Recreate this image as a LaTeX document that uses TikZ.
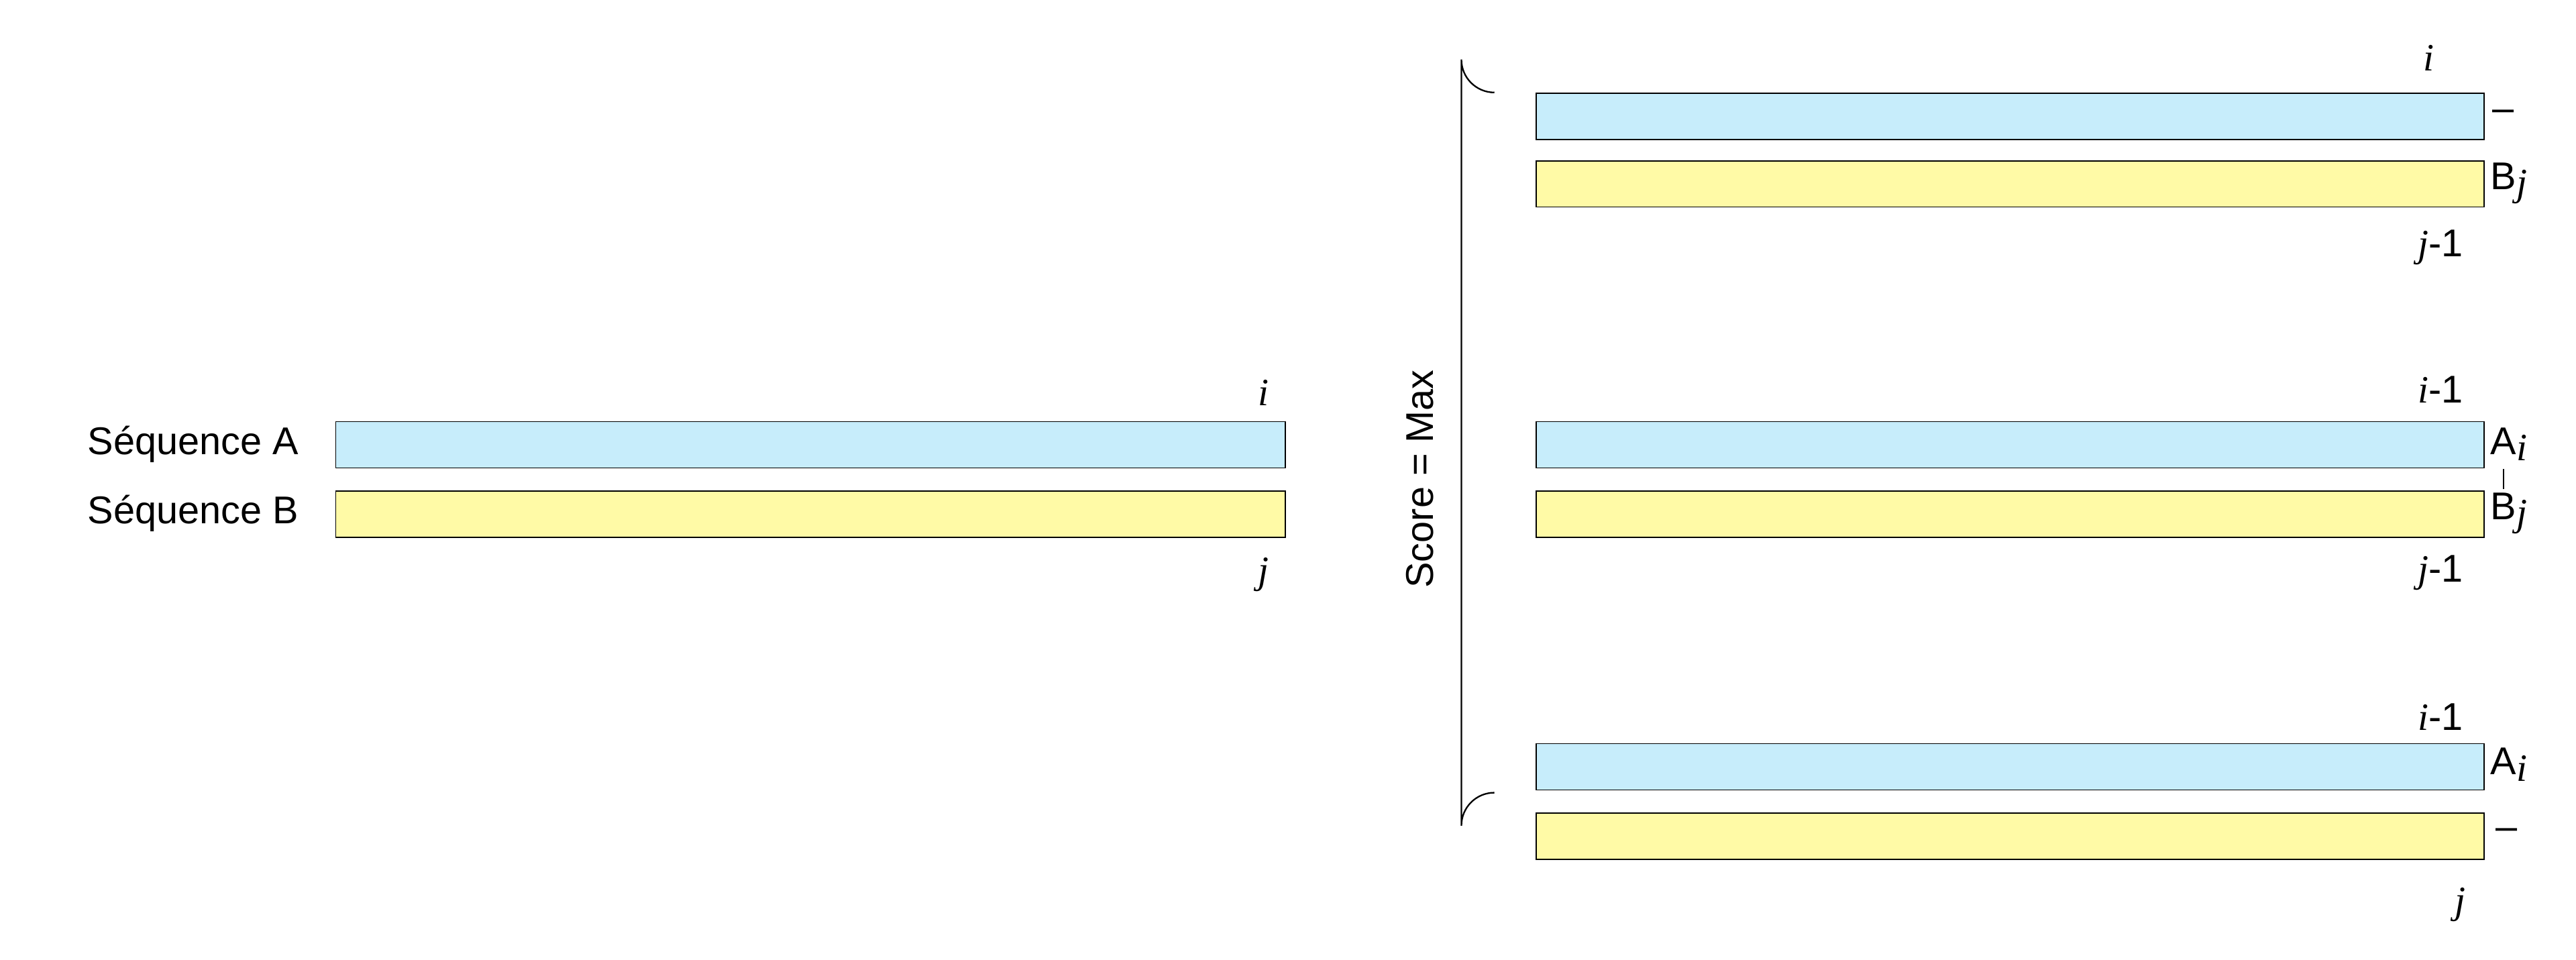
\documentclass[tikz,border=0pt]{standalone}
\usepackage{fontspec}
\setmainfont{Liberation Sans}
\newfontfamily\serifit{Liberation Serif}
\begin{document}
\begin{tikzpicture}[x=0.03cm,y=-0.03cm,
  every node/.style={font=\fontsize{20}{24}\selectfont},
  bar/.style={draw=black, line width=0.6pt, minimum height=0.84cm, inner sep=0pt, anchor=north west},
  seqA/.style={bar, fill=cyan!22},
  seqB/.style={bar, fill=yellow!35},
  lw/.style={minimum width=17.25cm},
  rw/.style={minimum width=17.22cm},
  lab/.style={inner sep=0pt}]
\useasboundingbox (0,0) rectangle (1560,581);
\newcommand{\mi}[1]{{\serifit\itshape #1}}
% left
\node[seqA,lw] (la) at (203,255) {};
\node[seqB,lw] (lb) at (203,297) {};
\node[lab,anchor=east] (tA) at (181,269) {Séquence A};
\node[lab,anchor=east] (tB) at (181,311) {Séquence B};
\node[lab] (li) at (765,238) {\mi{i}};
\node[lab] (lj) at (765,348) {\mi{j}};
% score
\node[lab,rotate=90] (score) at (860,290) {Score = Max};
\draw[line width=0.8pt] (905,56) arc[start angle=90,end angle=180,radius=20] -- (885,500) arc[start angle=180,end angle=270,radius=20];
% right rows
\node[seqA,rw] (a1) at (930,56) {};
\node[seqB,rw] (b1) at (930,97) {};
\node[seqA,rw] (a2) at (930,255) {};
\node[seqB,rw] (b2) at (930,297) {};
\node[seqA,rw] (a3) at (930,450) {};
\node[seqB,rw] (b3) at (930,492) {};
\node[lab] (r1i) at (1471,35) {\mi{i}};
\node[lab,anchor=west] (g1) at (1509,70) {--};
\node[lab,anchor=west] (bj1) at (1508,111) {B\raisebox{-0.3ex}{\mi{j}}};
\node[lab] (r1j) at (1478,150) {\mi{j}-1};
\node[lab] (r2i) at (1478,236) {\mi{i}-1};
\node[lab,anchor=west] (ai2) at (1508,269) {A\raisebox{-0.3ex}{\mi{i}}};
\draw[line width=0.7pt] (1516,284) -- (1516,296);
\node[lab,anchor=west] (bj2) at (1508,311) {B\raisebox{-0.3ex}{\mi{j}}};
\node[lab] (r2j) at (1478,347) {\mi{j}-1};
\node[lab] (r3i) at (1478,434) {\mi{i}-1};
\node[lab,anchor=west] (ai3) at (1508,463) {A\raisebox{-0.3ex}{\mi{i}}};
\node[lab,anchor=west] (g3) at (1511,505) {--};
\node[lab] (r3j) at (1490,548) {\mi{j}};
\end{tikzpicture}
\end{document}
